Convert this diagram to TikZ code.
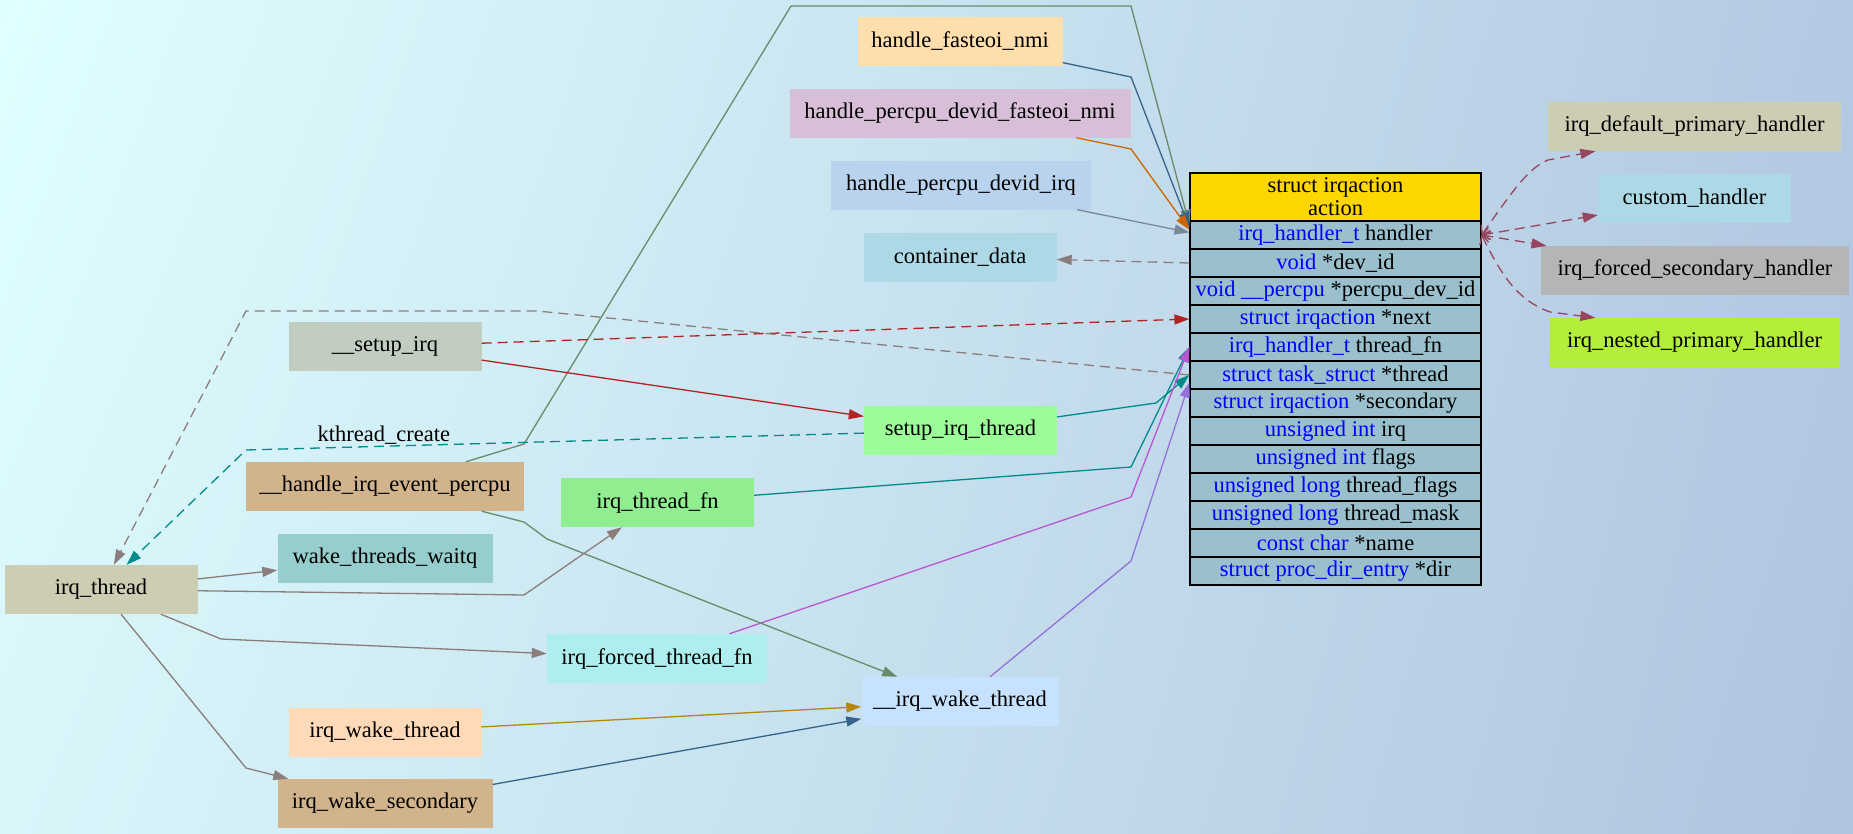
\documentclass[tikz,border=0pt]{standalone}
\usepackage{fontspec}
\setmainfont{Liberation Serif}
\usetikzlibrary{arrows.meta,shadings}

% background
\definecolor{bgtl}{HTML}{E0FFFF}
\definecolor{bgtr}{HTML}{B4C9E2}
\definecolor{bgbl}{HTML}{D8F6FA}
\definecolor{bgbr}{HTML}{B0C4DE}
% boxes
\definecolor{navajo}{HTML}{FFDEAD}
\definecolor{thistle}{HTML}{D8BFD8}
\definecolor{slateblue2}{HTML}{B9D3EE}
\definecolor{lblue}{HTML}{ADD8E6}
\definecolor{honeydew3}{HTML}{C1CDC1}
\definecolor{tan}{HTML}{D2B48C}
\definecolor{turq3}{HTML}{96CDCD}
\definecolor{lyellow3}{HTML}{CDCDB4}
\definecolor{peach}{HTML}{FFDAB9}
\definecolor{pgreen}{HTML}{9CFC98}
\definecolor{lgreen}{HTML}{90EE90}
\definecolor{pturq}{HTML}{AFEEEE}
\definecolor{slate1}{HTML}{C6E2FF}
\definecolor{gray71}{HTML}{B5B5B5}
\definecolor{olive2}{HTML}{B3EE3A}
\definecolor{gold}{HTML}{FFD700}
\definecolor{fieldblue}{HTML}{9AC0CD}
% lines
\definecolor{sageline}{HTML}{698B69}
\definecolor{steelline}{HTML}{36648B}
\definecolor{orangeline}{HTML}{CD6600}
\definecolor{slateline}{HTML}{778899}
\definecolor{roseline}{HTML}{8B7D7B}
\definecolor{brickline}{HTML}{B22222}
\definecolor{cyanline}{HTML}{008B8B}
\definecolor{orchidline}{HTML}{BA55D3}
\definecolor{purpleline}{HTML}{9370DB}
\definecolor{goldline}{HTML}{B8860B}
\definecolor{handline}{HTML}{96465F}

\begin{document}
\begin{tikzpicture}[x=1pt, y=-1pt,
  box/.style={fill=#1, minimum height=49pt, inner sep=0pt, font=\fontsize{22.5}{27}\selectfont},
  field/.style={draw=black, line width=1.2pt, fill=fieldblue, minimum width=291pt,
                minimum height=28pt, inner sep=0pt, font=\fontsize{22.5}{27}\selectfont},
  conn/.style={draw=#1, line width=1.3pt, -{Triangle[length=15pt,width=10pt]}},
  dashy/.style={dash pattern=on 10pt off 6pt},
  twoway/.style={draw=#1, line width=1.3pt, dash pattern=on 10pt off 6pt,
                 {Straight Barb[length=7pt,width=12pt]}-{Triangle[length=15pt,width=10pt]}}]

\useasboundingbox (0,0) rectangle (1853,833);
\shade[upper left=bgtl, upper right=bgtr, lower left=bgbl, lower right=bgbr]
  (0,0) rectangle (1853,833);

% Left side
\node[box=lyellow3, minimum width=193pt] (irqthread) at (101,589.5) {irq\_thread};
\node[box=honeydew3, minimum width=193pt] (setupirq) at (385,346.5) {\_\_setup\_irq};
\node[box=tan, minimum width=278pt] (handleevent) at (385,486.5) {\_\_handle\_irq\_event\_percpu};
\node[box=turq3, minimum width=215pt] (wakewaitq) at (385,558.5) {wake\_threads\_waitq};
\node[box=peach, minimum width=193pt] (wakethread) at (385,732) {irq\_wake\_thread};
\node[box=tan, minimum width=215pt] (wakesecondary) at (385,803.5) {irq\_wake\_secondary};
\node[box=lgreen, minimum width=193pt] (threadfn) at (657.5,502.5) {irq\_thread\_fn};
\node[box=pturq, minimum width=220pt] (forcedfn) at (657,658.5) {irq\_forced\_thread\_fn};

% Middle column
\node[box=navajo, minimum width=205pt] (fasteoi) at (960,41) {handle\_fasteoi\_nmi};
\node[box=thistle, minimum width=341pt] (percpufasteoi) at (960,113) {handle\_percpu\_devid\_fasteoi\_nmi};
\node[box=slateblue2, minimum width=260pt] (percpuirq) at (961,185) {handle\_percpu\_devid\_irq};
\node[box=lblue, minimum width=193pt] (container) at (960,257) {container\_data};
\node[box=pgreen, minimum width=193pt] (setupthread) at (960.5,430.5) {setup\_irq\_thread};
\node[box=slate1, minimum width=197pt] (irqwake) at (960,701.5) {\_\_irq\_wake\_thread};

% struct irqaction
\node[field, fill=gold, minimum height=48pt, align=center] (hdr) at (1335.5,197)
  {struct irqaction\\[-4pt]action};
\foreach \ty/\nm [count=\k] in {irq\_handler\_t/handler, void/*dev\_id,
    void \_\_percpu/*percpu\_dev\_id, struct irqaction/*next,
    irq\_handler\_t/thread\_fn, struct task\_struct/*thread,
    struct irqaction/*secondary, unsigned int/irq, unsigned int/flags,
    unsigned long/thread\_flags, unsigned long/thread\_mask,
    const char/*name, struct proc\_dir\_entry/*dir}
  \node[field] (r\k) at (1335.5,207+28*\k) {\textcolor{blue}{\ty} \nm};

% Handlers
\node[box=lyellow3, minimum width=293pt] (defprimary) at (1694.5,126.5) {irq\_default\_primary\_handler};
\node[box=lblue, minimum width=193pt] (customh) at (1694.5,198.5) {custom\_handler};
\node[box=gray71, minimum width=308pt] (forcedsec) at (1695,270.5) {irq\_forced\_secondary\_handler};
\node[box=olive2, minimum width=291pt] (nestedprim) at (1694.5,342.5) {irq\_nested\_primary\_handler};

% Into action->handler
\draw[conn=sageline] (handleevent) -- (524,444) -- (791,6) -- (1131,6) -- (r1.176);
\draw[conn=steelline] (fasteoi) -- (1131,77) -- (r1.177);
\draw[conn=orangeline] (percpufasteoi.-12) -- (1131,149) -- (r1.178);
\draw[conn=slateline] (percpuirq.-12) -- (r1.179);
\draw[conn=roseline, dashy] (r2.west) -- (container);

% setup
\draw[conn=brickline, dashy] (setupirq) -- (r4.west);
\draw[conn=brickline] (setupirq.-8) -- (setupthread);
\draw[conn=cyanline, dashy] (setupthread)
  -- node[pos=0.777, above=-2pt, text=black, font=\fontsize{22.5}{27}\selectfont] {kthread\_create}
  (246,450) -- (irqthread);
\draw[conn=roseline, dashy] (r6.west) -- (537,311) -- (246,311) -- (irqthread);
\draw[conn=cyanline] (setupthread) -- (1156,403) -- (r6.west);

% thread functions
\draw[conn=cyanline] (threadfn) -- (1131,467) -- (r5.west);
\draw[conn=orchidline] (forcedfn) -- (1131,497) -- (r5.west);
\draw[conn=purpleline] (irqwake) -- (1131,561) -- (r6.-177);
\draw[conn=sageline] (handleevent) -- (524,522) -- (547,539) -- (irqwake);

% irq_thread calls
\draw[conn=roseline] (irqthread) -- (wakewaitq);
\draw[conn=roseline] (irqthread) -- (524,595) -- (threadfn);
\draw[conn=roseline] (irqthread) -- (221,639) -- (forcedfn);
\draw[conn=roseline] (irqthread) -- (246,768) -- (wakesecondary);
\draw[conn=goldline] (wakethread) -- (irqwake);
\draw[conn=steelline] (wakesecondary) -- (irqwake);

% handler choices
\draw[twoway=handline] (r1.east) .. controls (1512,192) and (1528,168) .. (1548,160) -- (defprimary.-166);
\draw[twoway=handline] (r1.east) -- (customh);
\draw[twoway=handline] (r1.east) -- (forcedsec);
\draw[twoway=handline] (r1.east) .. controls (1500,272) and (1516,300) .. (1550,312) -- (nestedprim.166);

\end{tikzpicture}
\end{document}
